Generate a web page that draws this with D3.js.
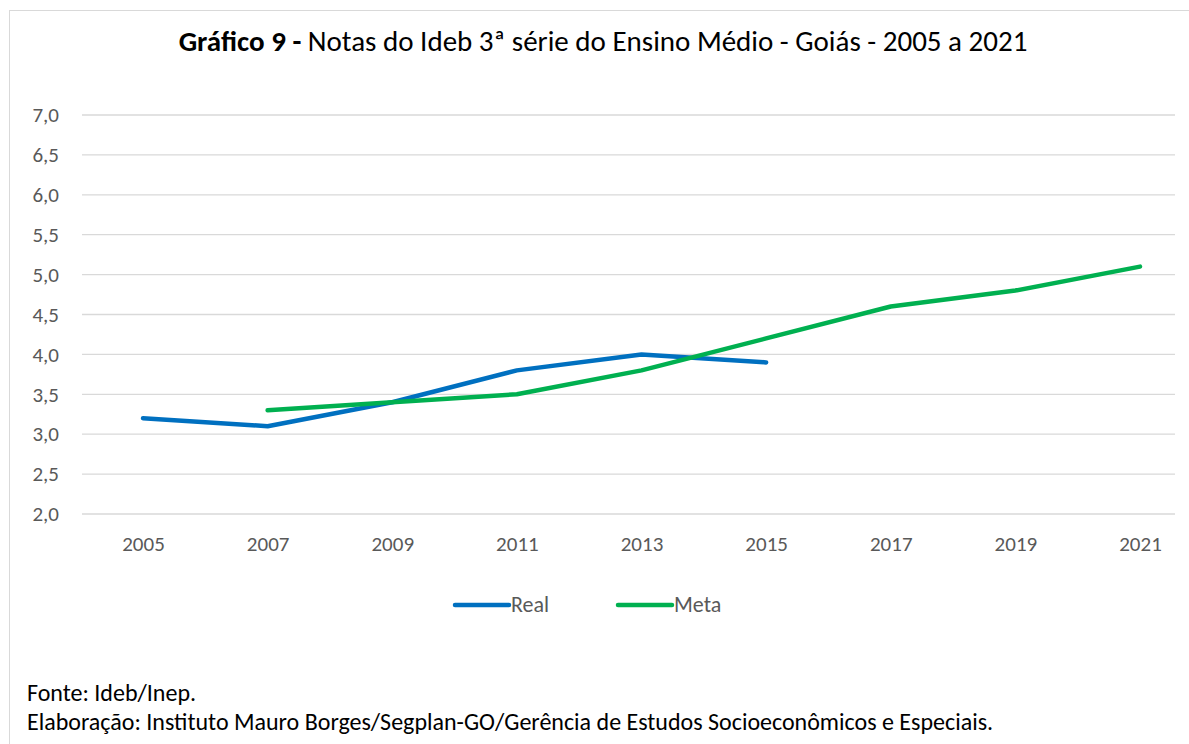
<!DOCTYPE html>
<html>
<head>
<meta charset="utf-8">
<script src="https://cdn.jsdelivr.net/npm/d3@7"></script>
<style>
  body { margin: 0; background: #fff; }
  svg, svg text { font-family: Carlito, Lato, "Open Sans", sans-serif; }
</style>
</head>
<body>
<svg width="1189" height="744"></svg>
<script>
const years = ["2005", "2007", "2009", "2011", "2013", "2015", "2017", "2019", "2021"];
const real = [3.2, 3.1, 3.4, 3.8, 4.0, 3.9, null, null, null];
const meta = [null, 3.3, 3.4, 3.5, 3.8, 4.2, 4.6, 4.8, 5.1];
const yTicks = [2.0, 2.5, 3.0, 3.5, 4.0, 4.5, 5.0, 5.5, 6.0, 6.5, 7.0];

let svg = d3.select("svg");

// chart border
svg.append("rect")
    .attr("x", 9.5).attr("y", 10.5)
    .attr("width", 1300).attr("height", 900)
    .attr("fill", "none").attr("stroke", "#d9d9d9");

let x = d3.scalePoint().domain(years).range([143, 1140]);
let y = d3.scaleLinear().domain([2, 7]).range([514, 115]);

// gridlines
svg.append("g").selectAll("line")
    .data(yTicks)
    .enter().append("line")
    .attr("x1", 82).attr("x2", 1175)
    .attr("y1", d => y(d)).attr("y2", d => y(d))
    .attr("stroke", "#d9d9d9").attr("stroke-width", 1.3);

let fmt = d => d.toFixed(1).replace(".", ",");

let yAxis = svg.append("g")
    .attr("transform", "translate(59,0)")
    .call(d3.axisLeft(y).tickValues(yTicks).tickFormat(fmt).tickSize(0).tickPadding(0));
yAxis.attr("font-family", null).attr("font-size", null);
yAxis.select(".domain").remove();
yAxis.selectAll("text")
    .attr("fill", "#595959").style("font-size", "21px");

let xAxis = svg.append("g")
    .attr("transform", "translate(0,536)")
    .call(d3.axisBottom(x).tickSize(0).tickPadding(0));
xAxis.attr("font-family", null).attr("font-size", null);
xAxis.select(".domain").remove();
xAxis.selectAll("text")
    .attr("fill", "#595959").style("font-size", "21px");

let line = d3.line()
    .defined(d => d != null)
    .x((d, i) => x(years[i]))
    .y(d => y(d));

svg.append("path")
    .datum(real)
    .attr("d", line)
    .attr("fill", "none").attr("stroke", "#0070c0")
    .attr("stroke-width", 4.5).attr("stroke-linecap", "round").attr("stroke-linejoin", "round");

svg.append("path")
    .datum(meta)
    .attr("d", line)
    .attr("fill", "none").attr("stroke", "#00b050")
    .attr("stroke-width", 4.5).attr("stroke-linecap", "round").attr("stroke-linejoin", "round");

// title
let title = svg.append("text")
    .attr("x", 603).attr("y", 51)
    .attr("text-anchor", "middle")
    .style("font-size", "29px").attr("fill", "#000");
title.append("tspan").attr("font-weight", "bold").text("Gráfico 9 - ");
title.append("tspan").text("Notas do Ideb 3ª série do Ensino Médio - Goiás - 2005 a 2021");

// legend
let legend = [{ name: "Real", color: "#0070c0", x: 455 }, { name: "Meta", color: "#00b050", x: 618 }];
let lg = svg.append("g").selectAll("g")
    .data(legend)
    .enter().append("g");
lg.append("line")
    .attr("x1", d => d.x).attr("x2", d => d.x + 54)
    .attr("y1", 605).attr("y2", 605)
    .attr("stroke", d => d.color).attr("stroke-width", 4.5).attr("stroke-linecap", "round");
lg.append("text")
    .attr("x", d => d.x + 56).attr("y", 612)
    .attr("fill", "#595959").style("font-size", "22px")
    .text(d => d.name);

// footnotes
svg.append("text").attr("x", 27).attr("y", 701)
    .style("font-size", "24px").attr("fill", "#000")
    .text("Fonte: Ideb/Inep.");
svg.append("text").attr("x", 27).attr("y", 730)
    .style("font-size", "24px").attr("fill", "#000")
    .text("Elaboração: Instituto Mauro Borges/Segplan-GO/Gerência de Estudos Socioeconômicos e Especiais.");
</script>
</body>
</html>
